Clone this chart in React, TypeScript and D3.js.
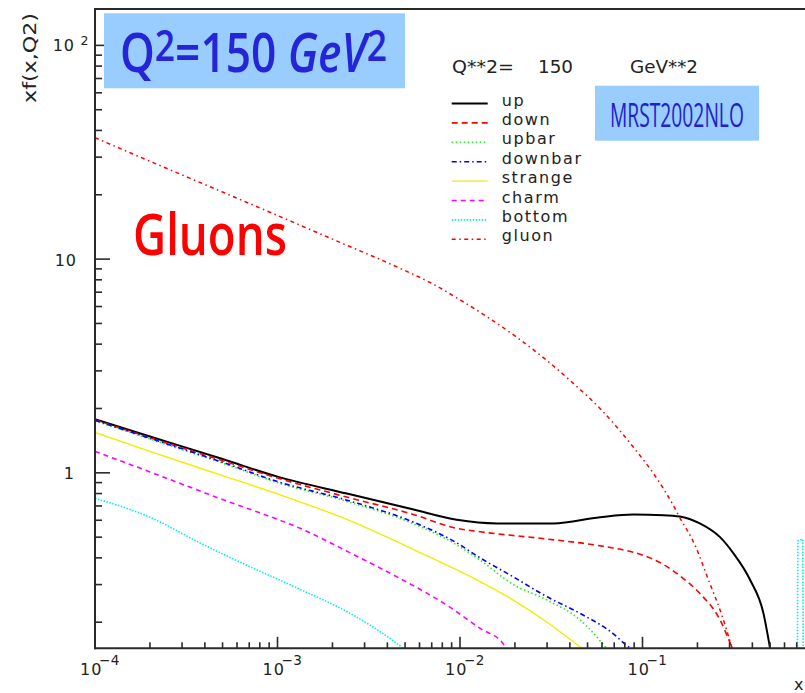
import React, { useLayoutEffect, useRef, useState } from 'react';
import * as d3 from 'd3';

const W = 805;
const H = 693;

// Parton distributions xf(x, Q^2) at Q^2 = 150 GeV^2 (MRST2002 NLO)
const upPdf: [number, number][] = [
  [1e-4, 1.78], [2e-4, 1.48], [5e-4, 1.16], [1e-3, 0.96], [2.4e-3, 0.8], [5.5e-3, 0.675],
  [0.0096, 0.603], [0.016, 0.58], [0.0325, 0.58], [0.0585, 0.62],
  [0.089, 0.638], [0.13, 0.634], [0.16, 0.625], [0.206, 0.58], [0.266, 0.5],
  [0.315, 0.42], [0.389, 0.315], [0.46, 0.22], [0.5, 0.151],
];
const downPdf: [number, number][] = [
  [1e-4, 1.77], [2e-4, 1.46], [5e-4, 1.14], [1e-3, 0.945], [2.4e-3, 0.77], [5.5e-3, 0.64],
  [0.0096, 0.55], [0.0129, 0.53], [0.03, 0.49], [0.05, 0.465], [0.069, 0.445],
  [0.089, 0.425], [0.11, 0.4], [0.137, 0.363], [0.16, 0.33], [0.206, 0.273],
  [0.266, 0.205], [0.31, 0.151],
];
const upbarPdf: [number, number][] = [
  [1e-4, 1.75], [2e-4, 1.44], [5e-4, 1.11], [1e-3, 0.9], [2.4e-3, 0.735], [5.5e-3, 0.58],
  [0.0096, 0.46], [0.0129, 0.39], [0.0196, 0.3], [0.03, 0.254], [0.0455, 0.205],
  [0.0635, 0.151],
];
const downbarPdf: [number, number][] = [
  [1e-4, 1.76], [2e-4, 1.45], [5e-4, 1.12], [1e-3, 0.91], [2.4e-3, 0.745], [5.5e-3, 0.59],
  [0.0096, 0.47], [0.0129, 0.4], [0.0196, 0.326], [0.03, 0.263], [0.0455, 0.22],
  [0.069, 0.177], [0.0817, 0.156], [0.086, 0.151],
];
const strangePdf: [number, number][] = [
  [1e-4, 1.545], [2e-4, 1.26], [5e-4, 0.97], [1.03e-3, 0.79], [2.4e-3, 0.605], [5.5e-3, 0.44],
  [0.0129, 0.31], [0.0196, 0.254], [0.03, 0.2], [0.0465, 0.151],
];
const charmPdf: [number, number][] = [
  [1e-4, 1.26], [2e-4, 1.01], [5e-4, 0.75], [1.03e-3, 0.6], [1.33e-3, 0.55], [2.4e-3, 0.43],
  [4.7e-3, 0.32], [0.0085, 0.24], [0.0129, 0.187], [0.0172, 0.159], [0.0177, 0.151],
];
const bottomPdf: [number, number][] = [
  [1e-4, 0.76], [2e-4, 0.62], [3.76e-4, 0.47], [7e-4, 0.365], [1.33e-3, 0.285],
  [2.5e-3, 0.22], [3.5e-3, 0.185], [4.9e-3, 0.151],
];
const bottomHighX: [number, number][] = [
  [0.706, 0.14], [0.71, 0.48], [0.755, 0.49], [0.76, 0.14],
];
const gluonPdf: [number, number][] = [
  [1e-4, 37], [2e-4, 28.7], [5e-4, 20.6], [1e-3, 16], [2e-3, 12.4], [4.5e-3, 9.2],
  [7e-3, 7.7], [0.01, 6.45], [0.02, 4.37], [0.03, 3.35], [0.041, 2.66], [0.0585, 2.0],
  [0.089, 1.32], [0.122, 0.92], [0.148, 0.7], [0.158, 0.63], [0.196, 0.45], [0.23, 0.315],
  [0.27, 0.22], [0.31, 0.151],
];

const seriesNames = ['up', 'down', 'upbar', 'downbar', 'strange', 'charm', 'bottom', 'gluon'];
const seriesData = [upPdf, downPdf, upbarPdf, downbarPdf, strangePdf, charmPdf, bottomPdf, gluonPdf];
const seriesColors = ['#000000', '#ff0000', '#22ee22', '#0000ff', '#eeee00', '#ff00ff', '#00eeee', '#ff0000'];
const seriesDash = ['', '6,4', '1.5,2.5', '5,3,1.5,3', '', '5,4', '1.5,1.5', '4,3.5,1.5,3.5'];
const seriesWidth = [2, 1.6, 1.6, 1.6, 1.4, 1.6, 1.6, 1.5];

const xDecades = [1e-4, 1e-3, 1e-2, 1e-1];
const xDecadeExp = ['−4', '−3', '−2', '−1'];
const yMajor = [1, 10, 100];

// plot frame
const L = 95;
const R = 825;
const T = 9;
const B = 648.3;

// Text squeezed horizontally so its drawn width equals `width`
function FitText({ x, y, width, children, ...rest }: any) {
  const ref = useRef<SVGTextElement>(null);
  const [k, setK] = useState(1);
  useLayoutEffect(() => {
    if (!ref.current) return;
    const w = ref.current.getBBox().width;
    if (w > 0) setK(width / w);
  }, [width]);
  return (
    <text ref={ref} transform={`translate(${x},${y}) scale(${k},1)`} {...rest}>
      {children}
    </text>
  );
}

export default function App() {
  const x = d3.scaleLog().domain([1e-4, 1]).range([L, R]);
  const y = d3.scaleLog().domain([0.151, 148]).range([B, T]);

  const line = d3
    .line<[number, number]>()
    .x((d) => x(d[0]))
    .y((d) => y(d[1]))
    .curve(d3.curveMonotoneX);

  const xMinor: number[] = [];
  xDecades.forEach((d) => {
    for (let k = 2; k <= 9; k++) xMinor.push(d * k);
  });
  const yMinor: number[] = [];
  [0.1, 1, 10].forEach((d) => {
    for (let k = 2; k <= 9; k++) {
      const v = d * k;
      if (v >= 0.151 && v <= 148) yMinor.push(v);
    }
  });

  const axisColor = '#2a2a2a';
  const rootFont = '"DejaVu Sans", sans-serif';
  const handFont = '"Open Sans", sans-serif';

  const legendX0 = 451.7;
  const legendX1 = 487.7;
  const legendY0 = 103.5;
  const legendStep = 19.4;

  return (
    <svg
      width={W}
      height={H}
      viewBox={`0 0 ${W} ${H}`}
      style={{ position: 'absolute', left: 0, top: 0, background: '#fff' }}
    >
      <defs>
        <clipPath id="plotArea">
          <rect x={L} y={T} width={R - L} height={B - T} />
        </clipPath>
      </defs>
      <rect x={0} y={0} width={W} height={H} fill="#fff" />

      {/* curves */}
      <g clipPath="url(#plotArea)" fill="none">
        {seriesData.map((data, i) => (
          <path
            key={seriesNames[i]}
            d={line(data) || ''}
            stroke={seriesColors[i]}
            strokeWidth={seriesWidth[i]}
            strokeDasharray={seriesDash[i] || undefined}
          />
        ))}
        <path
          d={d3.line<[number, number]>().x((d) => x(d[0])).y((d) => y(d[1]))(bottomHighX) || ''}
          stroke={seriesColors[6]}
          strokeWidth={1.6}
          strokeDasharray="1.5,1.5"
        />
      </g>

      {/* frame and axes */}
      <line x1={L} y1={T} x2={R} y2={T} stroke={axisColor} strokeWidth={2} />
      <line x1={L} y1={T - 1} x2={L} y2={B + 1} stroke={axisColor} strokeWidth={2} />
      <line x1={L - 1} y1={B} x2={R} y2={B} stroke={axisColor} strokeWidth={2} />

      {/* x ticks */}
      {xDecades.map((v) => (
        <line key={`xM${v}`} x1={x(v)} x2={x(v)} y1={B} y2={B - 11.5} stroke={axisColor} strokeWidth={1.6} />
      ))}
      {xMinor.map((v) => (
        <line key={`xm${v}`} x1={x(v)} x2={x(v)} y1={B} y2={B - 6} stroke={axisColor} strokeWidth={1.6} />
      ))}
      {/* y ticks */}
      {yMajor.map((v) => (
        <line key={`yM${v}`} x1={L} x2={L + 15} y1={y(v)} y2={y(v)} stroke={axisColor} strokeWidth={1.6} />
      ))}
      {yMinor.map((v) => (
        <line key={`ym${v}`} x1={L} x2={L + 7} y1={y(v)} y2={y(v)} stroke={axisColor} strokeWidth={1.6} />
      ))}

      {/* x tick labels */}
      {xDecades.map((v, i) => (
        <g key={`xl${v}`} fill="#222" fontFamily={rootFont}>
          <text x={x(v) - 15} y={675} fontSize={16} letterSpacing={1}>10</text>
          <text x={x(v) + 4} y={665} fontSize={13.5} letterSpacing={0.5}>{xDecadeExp[i]}</text>
        </g>
      ))}
      <text x={794} y={690} fontSize={16} fill="#222" fontFamily={rootFont}>x</text>

      {/* y tick labels */}
      <g fill="#222" fontFamily={rootFont}>
        <text x={74} y={y(1) + 6.5} fontSize={16} textAnchor="end">1</text>
        <text x={77} y={y(10) + 6.5} fontSize={16} textAnchor="end" letterSpacing={1}>10</text>
        <text x={75} y={y(100) + 6} fontSize={16} textAnchor="end" letterSpacing={1}>10</text>
        <text x={80.5} y={y(100)} fontSize={12.5}>2</text>
      </g>

      {/* y axis title */}
      <text
        transform="translate(36,103) rotate(-90)"
        fontSize={17}
        fill="#222"
        fontFamily={rootFont}
        textLength={90}
        lengthAdjust="spacingAndGlyphs"
      >
        xf(x,Q2)
      </text>

      {/* Q^2 header */}
      <rect x={104} y={13.3} width={301} height={75} fill="#99ccff" />
      <FitText x={120} y={72} width={267} fontSize={55} fill="#2525d8" fontFamily={handFont} fontWeight={600}>
        <tspan>Q</tspan>
        <tspan dy={-11} fontSize={44}>2</tspan>
        <tspan dy={11}>=150 </tspan>
        <tspan fontStyle="italic">GeV</tspan>
        <tspan dy={-11} fontSize={44}>2</tspan>
      </FitText>

      {/* Gluons label */}
      <FitText x={133} y={255} width={154} fontSize={58} fill="#ff0000" fontFamily={handFont} fontWeight={600}>
        Gluons
      </FitText>

      {/* MRST tag */}
      <rect x={595} y={85.7} width={164} height={55} fill="#99ccff" />
      <FitText x={610} y={127.3} width={134} fontSize={33} fill="#2222cc" fontFamily={handFont} fontWeight={500}>
        MRST2002NLO
      </FitText>

      {/* scale caption */}
      <g fill="#222" fontFamily={rootFont} fontSize={17}>
        <text x={452} y={73.3} textLength={62} lengthAdjust="spacingAndGlyphs">Q**2=</text>
        <text x={538} y={73.3} textLength={35} lengthAdjust="spacingAndGlyphs">150</text>
        <text x={630} y={73.3} textLength={68} lengthAdjust="spacingAndGlyphs">GeV**2</text>
      </g>

      {/* legend */}
      {seriesNames.map((name, i) => {
        const ly = legendY0 + i * legendStep;
        return (
          <g key={`lg${name}`}>
            <line
              x1={legendX0}
              x2={legendX1}
              y1={ly}
              y2={ly}
              stroke={seriesColors[i]}
              strokeWidth={seriesWidth[i]}
              strokeDasharray={seriesDash[i] || undefined}
            />
            <text x={501.7} y={ly + 2} fontSize={16} fill="#222" fontFamily={rootFont} letterSpacing={1.6}>
              {name}
            </text>
          </g>
        );
      })}
    </svg>
  );
}
